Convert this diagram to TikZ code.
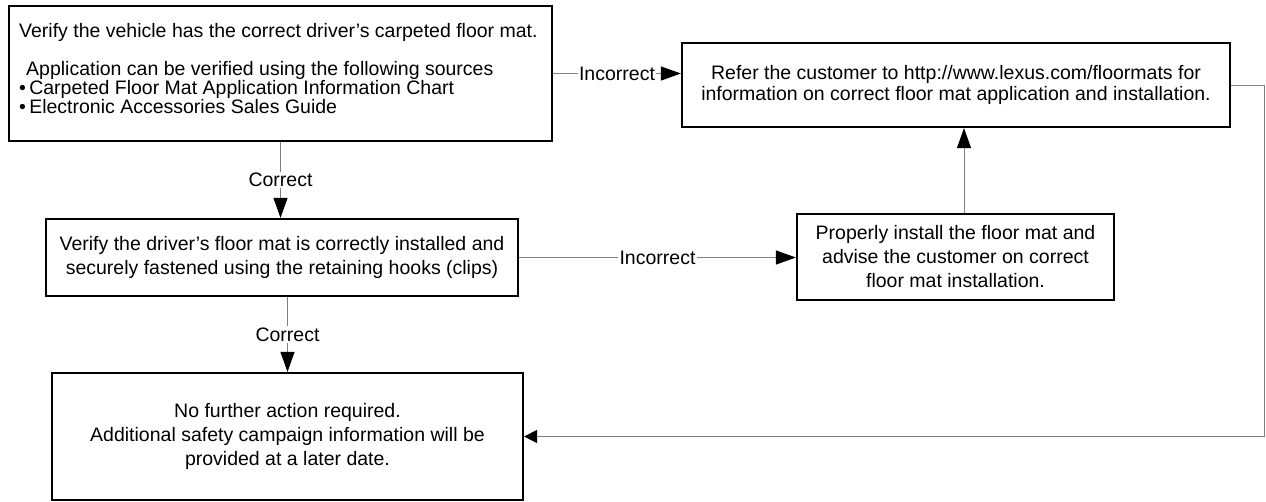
\documentclass[tikz,border=0pt]{standalone}
\usepackage{fontspec}
\setmainfont{Liberation Sans}
\usetikzlibrary{arrows.meta}
\definecolor{linegray}{HTML}{808080}
\begin{document}
\begin{tikzpicture}[x=1pt,y=-1pt,
  every node/.style={font=\fontsize{19.5}{24}\selectfont},
  box/.style={draw=black,line width=2.2pt,inner sep=0pt,align=center},
  txt/.style={inner sep=0pt,anchor=base west},
  conn/.style={draw=linegray,line width=1pt},
  arr/.style={conn,-{Triangle[length=20pt,width=14pt,color=black,fill=black]}},
  arrs/.style={conn,-{Triangle[length=13pt,width=13pt,color=black,fill=black]}},
  lbl/.style={fill=white,inner sep=1.5pt}]
\useasboundingbox (0,0) rectangle (1266,501);
\fill[white] (0,0) rectangle (1266,501);

% boxes
\node[box,minimum width=543pt,minimum height=135pt] (b1) at (280.5,73.5) {};
\node[txt] (b1t1) at (19,37) {Verify the vehicle has the correct driver’s carpeted floor mat.};
\node[txt] (b1t2) at (26,75) {Application can be verified using the following sources};
\node[txt] (b1t3) at (19,94) {•\,Carpeted Floor Mat Application Information Chart};
\node[txt] (b1t4) at (19,113) {•\,Electronic Accessories Sales Guide};

\node[box,minimum width=472pt,minimum height=77pt] (b2) at (282,257.5)
  {Verify the driver’s floor mat is correctly installed and\\securely fastened using the retaining hooks (clips)};

\node[box,minimum width=471pt,minimum height=127pt] (b3) at (287.5,436.5)
  {No further action required.\\Additional safety campaign information will be\\provided at a later date.};

\node[box,minimum width=548pt,minimum height=84pt,font=\fontsize{19.5}{20.5}\selectfont] (b4) at (956,85)
  {Refer the customer to http://www.lexus.com/floormats for\\information on correct floor mat application and installation.};

\node[box,minimum width=317pt,minimum height=86pt] (b5) at (955.5,257)
  {Properly install the floor mat and\\advise the customer on correct\\floor mat installation.};

% connectors
\draw[arr] (b1.south) -- node[lbl] (l1) {Correct} (b1.south |- b2.north);
\draw[arr] (b3.north |- b2.south) -- node[lbl] (l2) {Correct} (b3.north);
\draw[arr] (b1.east) -- node[lbl] (l3) {Incorrect} (b1.east -| b4.west);
\draw[arr] (b2.east) -- node[lbl] (l4) {Incorrect} (b2.east -| b5.west);
\draw[arr] ([xshift=8.5pt]b5.north) -- ([xshift=8.5pt]b5.north |- b4.south);
\coordinate (rc) at (1264,85);
\draw[arrs] (b4.east) -- (rc) |- (b3.east);
\end{tikzpicture}
\end{document}
